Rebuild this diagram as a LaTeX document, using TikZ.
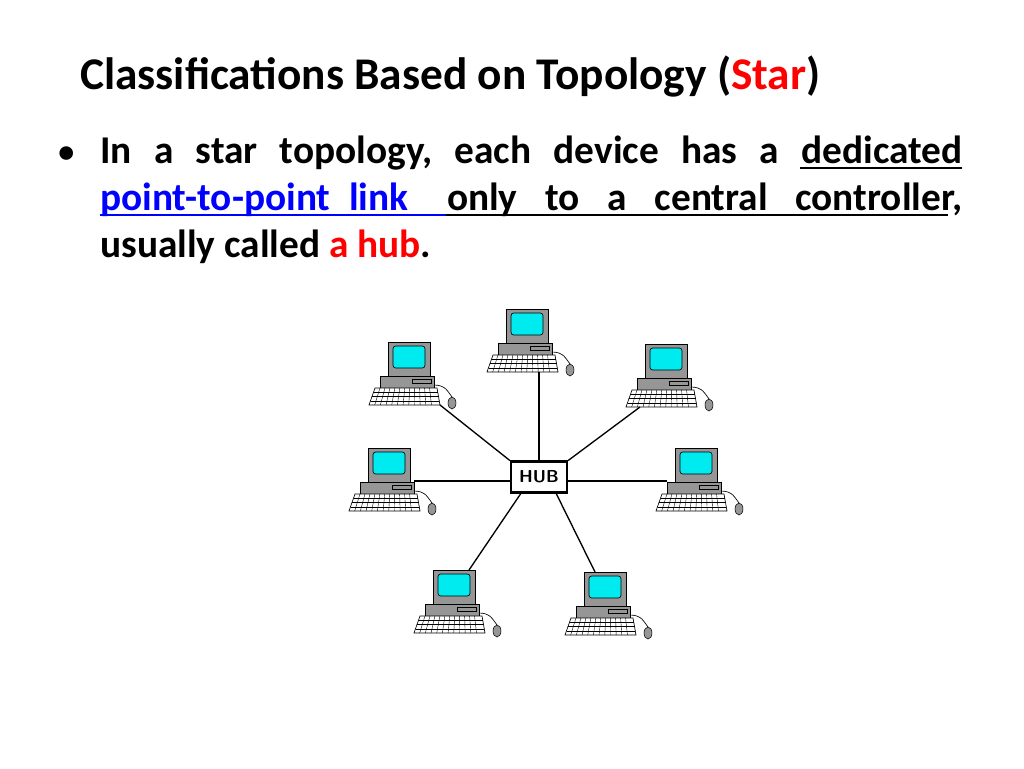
\documentclass[tikz,border=0pt]{standalone}
\usepackage{fontspec}
\setmainfont{Carlito}
\usetikzlibrary{calc}
\definecolor{scr}{RGB}{0,235,240}
\definecolor{cgray}{RGB}{150,150,150}
\begin{document}
\begin{tikzpicture}[x=0.75pt,y=-0.75pt,
  hubbox/.style={draw,line width=1.8pt,fill=white,minimum width=42pt,minimum height=23pt,font=\sffamily\bfseries\fontsize{13}{13}\selectfont,inner sep=0pt},
  link/.style={line width=1pt},
  txt/.style={anchor=base west,inner sep=0pt,font=\bfseries\fontsize{29.5}{30}\selectfont},
  ul/.style={line width=1.3pt},
  computer/.pic={
    \draw[fill=cgray,line width=0.5pt] (0,0) rectangle (42,34);
    \draw[fill=scr,rounded corners=2pt,line width=0.5pt] (5,4) rectangle (37,26);
    \draw[fill=cgray,line width=0.5pt] (-8,34) rectangle (46,46);
    \draw[line width=0.4pt] (24,37) rectangle (43,41);
    \draw[fill=white,line width=0.5pt] (-13,46) -- (49,46) -- (52,63) -- (-19,63) -- cycle;
    \foreach \t in {0.25,0.5,0.75}{\draw[line width=0.3pt] ($(-13,46)!\t!(-19,63)$) -- ($(49,46)!\t!(52,63)$);}
    \foreach \s in {0.08,0.16,...,0.93}{\draw[line width=0.3pt] ($(-13,46)!\s!(49,46)$) -- ($(-19,63)!\s!(52,63)$);}
    \draw[line width=0.5pt] (46,43) .. controls (58,43) and (60,50) .. (64,55);
    \draw[fill=cgray,line width=0.4pt] (64,61) ellipse (4 and 6);
    \coordinate (-kb) at (32,63);
    \coordinate (-kbr) at (52,63);
    \coordinate (-kbl) at (-5,63);
    \coordinate (-br) at (46,33);
    \coordinate (-bl) at (-8,33);
    \coordinate (-mtr) at (36,0);
    \coordinate (-mtl) at (11,0);
  }]
\useasboundingbox (0,0) rectangle (1024,768);
\node[anchor=base west,inner sep=0pt,font=\bfseries\fontsize{34}{36}\selectfont] (title) at (80,89) {Classifications Based on Topology (\textcolor{red}{Star})};
\node[txt,font=\bfseries\fontsize{24}{24}\selectfont] (bul) at (58,162) {\textbullet};
\node[txt] (l1) at (100,163) {\hbox to 646.5pt{In\hfil a\hfil star\hfil topology,\hfil each\hfil device\hfil has\hfil a\hfil dedicated}};
\node[txt] (l2) at (100,210) {\hbox to 646.5pt{\textcolor{blue}{point-to-point\hskip 14pt link}\hskip 29pt only\hfil to\hfil a\hfil central\hfil controller,}};
\node[txt] (l3) at (100,257) {usually called \textcolor{red}{a hub}.};
\coordinate (u1a) at (800,168); \coordinate (u1b) at (962,168);
\coordinate (u2a) at (100,215); \coordinate (u2m) at (446,215); \coordinate (u2b) at (948,215);
\draw[ul] (u1a) -- (u1b);
\draw[ul,blue] (u2a) -- (u2m);
\draw[ul] (u2m) -- (u2b);
\node[hubbox] (hub) at (539,477) {HUB};
\pic (ct) at (506,309) {computer};
\pic (cul) at (388,342) {computer};
\pic (cur) at (645,344) {computer};
\pic (cl) at (368,448) {computer};
\pic (cr) at (675,448) {computer};
\pic (cll) at (433,570) {computer};
\pic (clr) at (584,572) {computer};
\draw[link] (hub.north) -- (hub.north |- ct-kb);
\draw[link] (hub.north west) -- (cul-kbr);
\draw[link] (hub.north east) -- (cur-kbl);
\draw[link] (cl-br) -- (cl-br -| hub.west);
\draw[link] (cr-bl) -- (cr-bl -| hub.east);
\draw[link] (hub.south west) ++(11,0) coordinate (hsl) -- (cll-mtr);
\draw[link] (hub.south east) ++(-12,0) coordinate (hsr) -- (clr-mtl);
\end{tikzpicture}
\end{document}
